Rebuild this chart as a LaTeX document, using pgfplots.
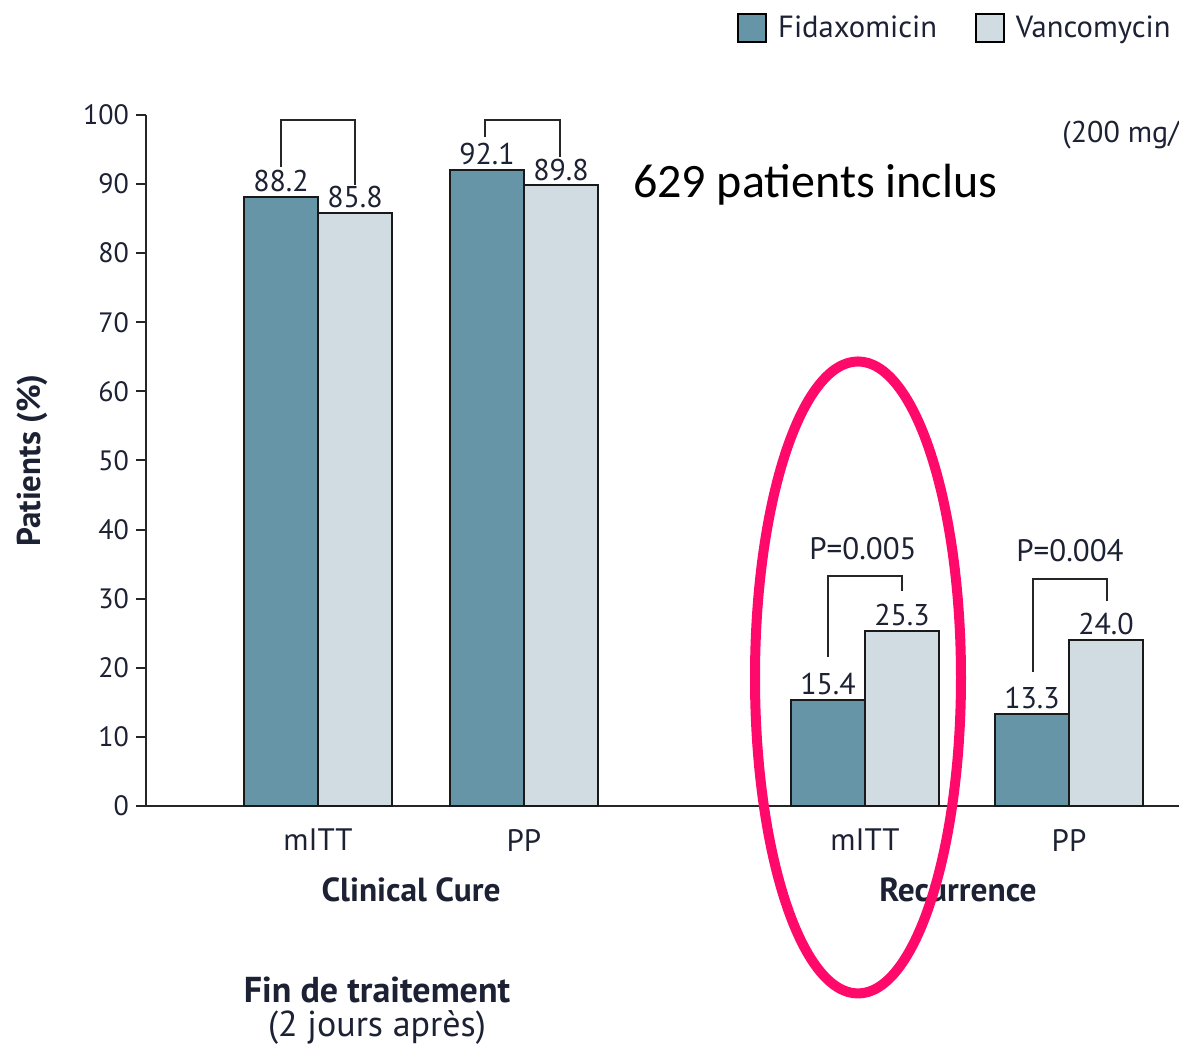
\documentclass[border=0pt]{standalone}
\usepackage{pgfplots}
\pgfplotsset{compat=1.18}
\usepackage{fontspec}
\setmainfont{PT Sans}
\newfontfamily\calibri{Carlito}

\definecolor{fida}{HTML}{6795A8}
\definecolor{vanco}{HTML}{D1DCE2}
\definecolor{ink}{HTML}{1C2233}
\definecolor{ring}{HTML}{FF0A6A}

\begin{document}
\begin{tikzpicture}
\useasboundingbox (0,0) rectangle (589.5pt,525pt);
\begin{axis}[
  at={(73pt,122pt)}, anchor=south west,
  scale only axis, width=516.5pt, height=345.5pt,
  xmin=146, xmax=1179, ymin=0, ymax=100,
  clip=false,
  axis x line*=bottom, axis y line*=left,
  axis line style={line width=1pt, draw=black!85},
  ybar, bar width=37pt, ybar=0pt,
  ytick={0,10,...,100},
  tick align=outside, major tick length=5pt,
  tick style={line width=1pt, black!85},
  xtick={318,524,865,1069},
  xticklabels={mITT,PP,mITT,PP},
  major x tick style={draw=none},
  /pgf/number format/assume math mode=true,
  tick label style={font=\fontsize{14}{14}\selectfont, text=ink},
  xticklabel style={yshift=-3pt, font=\fontsize{15.5}{15.5}\selectfont},
  ylabel={Patients (\%)},
  ylabel style={at={(axis description cs:-0.11,0.5)}, anchor=center,
                font=\bfseries\fontsize{16.5}{16.5}\selectfont, text=ink},
  nodes near coords={\pgfmathprintnumber[fixed,fixed zerofill,precision=1]{\pgfplotspointmeta}},
  every node near coord/.append style={font=\fontsize{15}{15}\selectfont,
                text=ink, inner sep=2pt},
  legend style={at={(axis cs:737,112.6)}, anchor=west, draw=none, fill=none,
                inner sep=0pt, legend columns=-1,
                font=\fontsize{15.3}{15.3}\selectfont, text=ink,
                /tikz/every even column/.append style={column sep=17pt}},
  boxlegend/.style={legend image code/.code={
      \draw[##1, draw=black, line width=0.8pt] (0pt,-7pt) rectangle (14pt,7pt);
      \path (17.5pt,0pt);}},
]
% end-of-treatment cure and recurrence rates, mITT and PP populations
\addplot[fill=fida, draw=black!90, line width=1pt, boxlegend]
  coordinates {(318,88.2) (524,92.1) (865,15.4) (1069,13.3)};
\addplot[fill=vanco, draw=black!90, line width=1pt, boxlegend]
  coordinates {(318,85.8) (524,89.8) (865,25.3) (1069,24.0)};
\legend{Fidaxomicin, Vancomycin}

% comparison brackets
\draw[line width=1pt, black!85] (axis cs:281,92.5) |- (axis cs:355,99.3) -- (axis cs:355,89.9);
\draw[line width=1pt, black!85] (axis cs:485,96.8) |- (axis cs:560,99.3) -- (axis cs:560,93.9);
\draw[line width=1pt, black!85] (axis cs:828,21.6) |- (axis cs:902,33.3) -- (axis cs:902,31.1);
\draw[line width=1pt, black!85] (axis cs:1033,19.4) |- (axis cs:1107,32.8) -- (axis cs:1107,29.6);
\node[font=\fontsize{15.5}{15.5}\selectfont, text=ink] at (axis cs:863,37.2) {P=0.005};
\node[font=\fontsize{15.5}{15.5}\selectfont, text=ink] at (axis cs:1070,36.9) {P=0.004};

% dose note and population count
\node[anchor=west, inner sep=0pt, font=\fontsize{15}{15}\selectfont, text=ink] at (axis cs:1062,97.1) {(200 mg/};
\node[anchor=west, font=\calibri\fontsize{24}{24}\selectfont] at (axis cs:626,89.9) {629 patients inclus};

% group titles
\node[font=\bfseries\fontsize{16.7}{16.7}\selectfont, text=ink] at (axis cs:411,-12.2) {Clinical Cure};
\node[font=\bfseries\fontsize{16.7}{16.7}\selectfont, text=ink] at (axis cs:958,-12.2) {Recurrence};
\node[font=\bfseries\fontsize{18}{18}\selectfont, text=ink] at (axis cs:377,-26.6) {Fin de traitement};
\node[font=\fontsize{18}{18}\selectfont, text=ink] at (axis cs:377,-32.1) {(2 jours après)};

% highlight around the recurrence mITT pair
\draw[ring, line width=5pt] (axis cs:858,18.6) ellipse [x radius=51.5pt, y radius=158pt];
\end{axis}
\end{tikzpicture}
\end{document}
